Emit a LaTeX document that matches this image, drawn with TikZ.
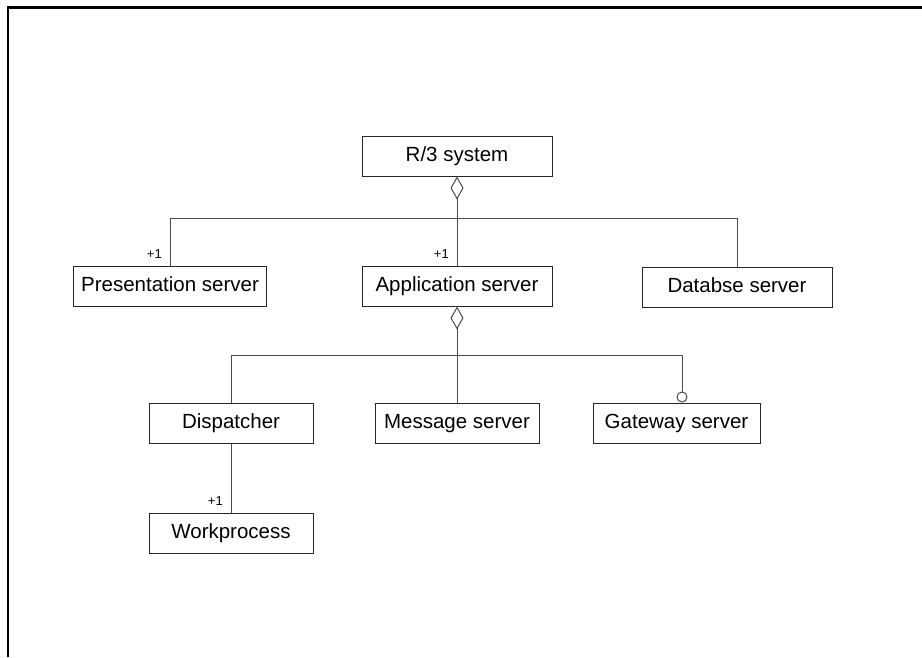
\documentclass[tikz,border=0pt]{standalone}
\usepackage{fontspec}
\setmainfont{Liberation Sans}
\usetikzlibrary{calc}
\usetikzlibrary{arrows.meta}

\begin{document}
\begin{tikzpicture}[
        x=1pt, y=-1pt,
        box/.style={draw=black!85,line width=1pt,minimum height=40pt,inner sep=0pt,
            text height=14.5pt,text depth=4pt,font=\fontsize{20.5}{24}\selectfont},
        mult/.style={inner sep=0pt,anchor=south east,xshift=-8pt,yshift=7pt,font=\fontsize{13}{15}\selectfont},
        link/.style={draw=black!70,line width=1pt},
        >=Latex
    ]
        \useasboundingbox (0,0) rectangle (922,657);
        \draw[line width=2.5pt] (8,657) -- (8,7.5) -- (922,7.5);
        \node[box,minimum width=190pt] (r3) at (457,156) {R/3 system};
        \node[box,minimum width=193pt] (pres) at (170,286) {Presentation server};
        \node[box,minimum width=190pt] (app) at (457,286) {Application server};
        \node[box,minimum width=190pt] (db) at (737,287) {Databse server};
        \node[box,minimum width=164pt] (disp) at (231,423) {Dispatcher};
        \node[box,minimum width=164pt] (msg) at (457,423) {Message server};
        \node[box,minimum width=167pt] (gw) at (676.5,423) {Gateway server};
        \node[box,minimum width=164pt] (work) at (231,533) {Workprocess};
        \coordinate (top) at ($(r3.south)+(0,42)$);
        \coordinate (mid) at ($(app.south)+(0,49)$);
        \coordinate (gwtop) at ($(gw.north)+(5.5,0)$);
        \draw[link] (pres.north) |- (top) -| (db.north);
        \draw[link,{Diamond[open,length=23pt,width=13pt]}-] (r3.south) -- (app.north);
        \draw[link,-{Circle[open,length=11pt]}] (disp.north) |- (mid) -| (gwtop);
        \draw[link,{Diamond[open,length=23pt,width=13pt]}-] (app.south) -- (msg.north);
        \draw[link] (disp.south) -- (work.north);
        \node[mult] (mpres) at (pres.north) {+1};
        \node[mult] (mapp) at (app.north) {+1};
        \node[mult] (mwork) at (work.north) {+1};
    \end{tikzpicture}
\end{document}
